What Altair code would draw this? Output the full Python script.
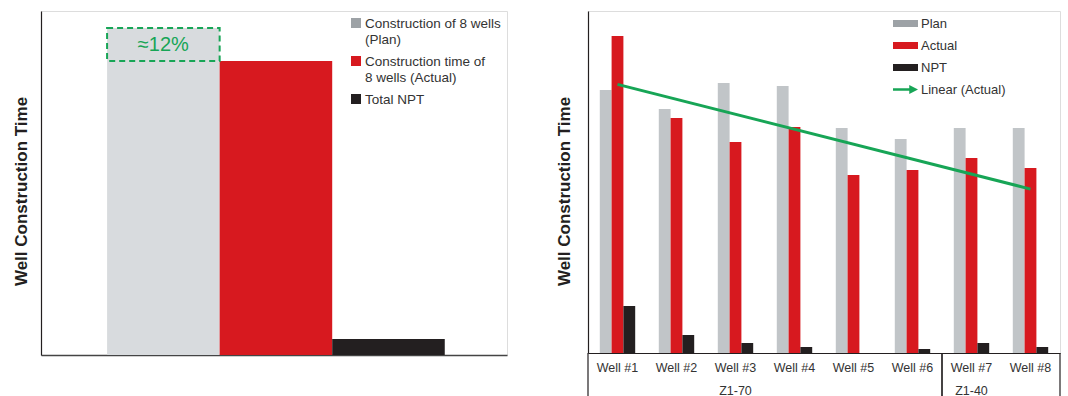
import altair as alt
import pandas as pd

FONT = "Liberation Sans"
TEXT = "#333333"
AXIS = "#231f20"
GREEN = "#17a556"

# ---------------- left panel data ----------------
left_series = ["Construction of 8 wells|(Plan)", "Construction time of|8 wells (Actual)", "Total NPT"]
left_values = [327, 294, 16]
left_bar_colors = ["#d8dbde", "#d7191f", "#231f20"]
left_legend_colors = ["#9da2a6", "#d7191f", "#231f20"]
gap_text = "≈12%"

# ---------------- right panel data ----------------
wells = ["Well #1", "Well #2", "Well #3", "Well #4", "Well #5", "Well #6", "Well #7", "Well #8"]
well_index = [1, 2, 3, 4, 5, 6, 7, 8]
plan_values = [263, 244, 270, 267, 225, 214, 225, 225]
actual_values = [317, 235, 211, 226, 178, 183, 195, 185]
npt_values = [47, 18, 10, 6, 0, 4, 10, 6]
bar_series = ["Plan", "Actual", "NPT"]
right_series = ["Plan", "Actual", "NPT", "Linear (Actual)"]
right_bar_colors = ["#c1c5c8", "#d7191f", "#231f20"]
right_legend_colors = ["#9da2a6", "#d7191f", "#231f20", GREEN]
groups = ["Z1-70", "Z1-40"]
group_first = ["Well #1", "Well #7"]
group_last = ["Well #6", "Well #8"]
group_label_at = ["Well #3", "Well #7"]

LW, LH = 466, 344
RW, RH = 472, 342
PAD_IN, PAD_OUT = 0.4, 0.2
STEP = RW / (len(wells) - PAD_IN + 2 * PAD_OUT)
HALF_GAP = PAD_IN * STEP / 2

RECT = "M-1,-0.28H1V0.28H-1Z"
ARROW = "M-1,-0.1H0.3V-0.36L1,0L0.3,0.36V0.1H-1Z"

TITLE_Y = 180

# ---------------- left panel ----------------
left_df = pd.DataFrame({"series": left_series, "value": left_values})
gap_df = pd.DataFrame({"series": [left_series[0]], "top": [left_values[0]],
                       "bottom": [left_values[1]], "label": [gap_text]})

lx = alt.X("series:N", sort=left_series,
           scale=alt.Scale(domain=left_series, paddingInner=0, paddingOuter=0.57, align=0.515),
           axis=alt.Axis(title=None, labels=False, ticks=False, domainColor="#444444", domainWidth=1.5))
ly_axis = alt.Axis(title="Well Construction Time", labels=False, ticks=False, grid=False,
                   domainColor=AXIS, domainWidth=1.2, titleFont=FONT, titleFontSize=17,
                   titleFontWeight="bold", titleColor=AXIS, titlePadding=11, titleY=TITLE_Y)
ly_scale = alt.Scale(domain=[0, LH], nice=False)

left_bars = alt.Chart(left_df).mark_bar().encode(
    x=lx,
    y=alt.Y("value:Q", scale=ly_scale, axis=ly_axis),
    fill=alt.Fill("series:N", sort=left_series,
                  scale=alt.Scale(domain=left_series, range=left_bar_colors), legend=None),
)
gap_box = alt.Chart(gap_df).mark_rect(fillOpacity=0, stroke=GREEN, strokeWidth=2, strokeDash=[6, 4]).encode(
    x=alt.X("series:N", sort=left_series),
    y=alt.Y("top:Q"),
    y2="bottom:Q",
)
gap_label = alt.Chart(gap_df).transform_calculate(mid="(datum.top + datum.bottom) / 2").mark_text(
    font=FONT, fontSize=20, color=GREEN, baseline="middle", align="center"
).encode(
    x=alt.X("series:N", sort=left_series),
    y=alt.Y("mid:Q"),
    text="label:N",
)

# legend of the left panel (symbols + two-line labels)
key_y = alt.Y("series:N", sort=left_series,
              scale=alt.Scale(type="point", domain=left_series, range=[12, 88], padding=0), axis=None)
left_key_sym = alt.Chart(left_df).mark_square(size=100, opacity=1).encode(
    x=alt.value(315),
    y=key_y,
    color=alt.Color("series:N", sort=left_series,
                    scale=alt.Scale(domain=left_series, range=left_legend_colors), legend=None),
)
left_key_txt = alt.Chart(left_df).mark_text(
    align="left", baseline="top", dy=-6, lineBreak="|", lineHeight=16,
    font=FONT, fontSize=13.5, color=TEXT,
).encode(
    x=alt.value(324),
    y=key_y,
    text="series:N",
)
left = alt.layer(
    alt.layer(left_bars, gap_box, gap_label),
    alt.layer(left_key_sym, left_key_txt),
).resolve_scale(y="independent").properties(width=LW, height=LH)

# ---------------- right panel ----------------
rdf = pd.DataFrame({"well": wells, "idx": well_index, "Plan": plan_values,
                    "Actual": actual_values, "NPT": npt_values})
key_df = pd.DataFrame({"series": right_series})
gdf = pd.DataFrame({"group": groups, "first": group_first, "last": group_last, "at": group_label_at})

rx_scale = alt.Scale(domain=wells, paddingInner=PAD_IN, paddingOuter=PAD_OUT)
ry_axis = alt.Axis(title="Well Construction Time", labels=False, ticks=False, grid=False,
                   domainColor=AXIS, domainWidth=1.2, titleFont=FONT, titleFontSize=17,
                   titleFontWeight="bold", titleColor=AXIS, titlePadding=15, titleY=TITLE_Y)
ry_scale = alt.Scale(domain=[0, RH], nice=False)

right_legend = alt.Legend(
    title=None, orient="none", legendX=305, legendY=0, direction="vertical", padding=0,
    symbolSize=625, symbolStrokeWidth=0, symbolOffset=0, symbolOpacity=1,
    labelFont=FONT, labelFontSize=13, labelColor=TEXT, labelLimit=0, labelOffset=3, rowPadding=2,
)

right_bars = alt.Chart(rdf).transform_fold(bar_series, as_=["series", "value"]).mark_bar().encode(
    x=alt.X("well:N", sort=wells, scale=rx_scale,
            axis=alt.Axis(title=None, labelAngle=0, ticks=False, domainColor=AXIS, domainWidth=1.2,
                          labelFont=FONT, labelFontSize=12.5, labelColor=TEXT, labelPadding=8)),
    xOffset=alt.XOffset("series:N", sort=bar_series, scale=alt.Scale(domain=bar_series)),
    y=alt.Y("value:Q", scale=ry_scale, axis=ry_axis),
    fill=alt.Fill("series:N", scale=alt.Scale(domain=bar_series, range=right_bar_colors), legend=None),
)
trend = alt.Chart(rdf).transform_regression("idx", "Actual").transform_calculate(
    well="'Well #' + datum.idx"
).mark_line(strokeWidth=3, color=GREEN).encode(
    x=alt.X("well:N", sort=wells, title=None),
    y=alt.Y("Actual:Q", title="Well Construction Time"),
)
right_key = alt.Chart(key_df).mark_point(size=0, filled=True).encode(
    color=alt.Color("series:N", sort=right_series,
                    scale=alt.Scale(domain=right_series, range=right_legend_colors), legend=right_legend),
    shape=alt.Shape("series:N", sort=right_series,
                    scale=alt.Scale(domain=right_series, range=[RECT, RECT, RECT, ARROW]), legend=right_legend),
)
sep_start = alt.Chart(gdf).mark_rule(color=AXIS, strokeWidth=1.2, xOffset=-HALF_GAP).encode(
    x=alt.X("first:N", sort=wells, bandPosition=0, title=None),
    y=alt.value(RH), y2=alt.value(RH + 60),
)
sep_end = alt.Chart(gdf).mark_rule(color=AXIS, strokeWidth=1.2, xOffset=HALF_GAP).encode(
    x=alt.X("last:N", sort=wells, bandPosition=1, title=None),
    y=alt.value(RH), y2=alt.value(RH + 60),
)
group_text = alt.Chart(gdf).mark_text(font=FONT, fontSize=12.5, color=TEXT, baseline="middle").encode(
    x=alt.X("at:N", sort=wells, title=None),
    y=alt.value(RH + 38),
    text="group:N",
)
right = alt.layer(right_bars, trend, sep_start, sep_end, group_text, right_key).properties(width=RW, height=RH)

chart = alt.hconcat(left, right, spacing=46).resolve_scale(
    x="independent", y="independent", color="independent", fill="independent", shape="independent"
).resolve_legend(color="independent", shape="independent").properties(
    padding={"left": 11, "top": 10, "right": 0, "bottom": 0}, background="white"
).configure_view(stroke=None).configure(font=FONT)

chart.save("out.html", embed_options={"renderer": "svg", "actions": False})
